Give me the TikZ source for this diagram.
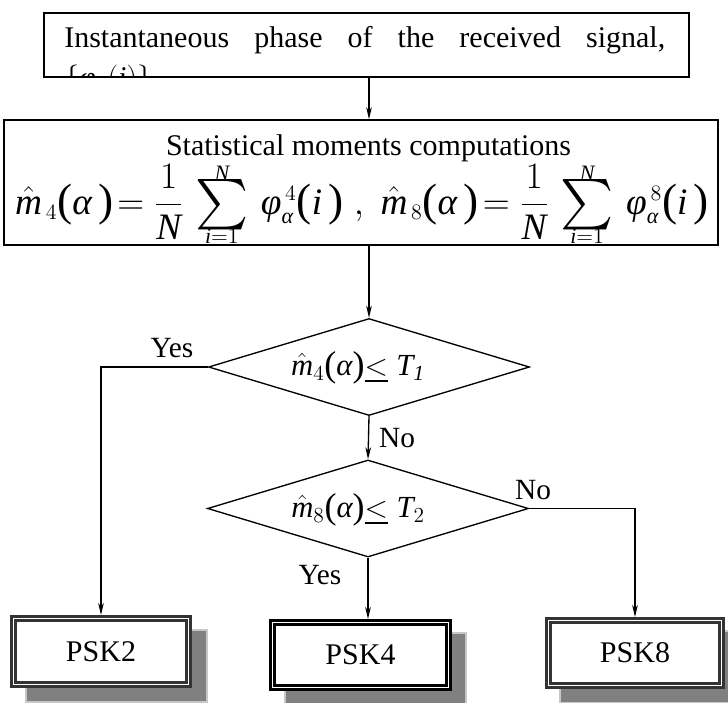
\RequirePackage{fix-cm}
\documentclass[tikz,border=0pt]{standalone}
\usepackage{amsmath}
\usepackage{graphicx}
\usepackage{fontspec}
\setmainfont{Liberation Serif}
\usetikzlibrary{arrows.meta,shapes.geometric}
\newcommand{\ti}[1]{\textit{#1}}
\newcommand{\lpar}[1]{\mathopen{\vcenter{\hbox{\fontsize{#1}{#1}\selectfont(}}}}
\newcommand{\rpar}[1]{\mathclose{\vcenter{\hbox{\fontsize{#1}{#1}\selectfont)}}}}
\newcommand{\bigsum}[2]{\mathop{\vcenter{\offinterlineskip\halign{\hfil##\hfil\cr
  $\scriptstyle #2$\cr\noalign{\kern-1.2pt}
  \scalebox{1.52}{$\textstyle\sum$}\cr\noalign{\kern-0.8pt}
  $\scriptstyle #1$\cr}}}}
\DeclareMathSizes{28}{28}{16.5}{13}
\hyphenpenalty=10000
\exhyphenpenalty=10000
\tolerance=10000
\tikzset{
  arr/.style={line width=1pt,-{Stealth[length=9pt,width=4.2pt,inset=2.6pt]}},
  bigbox/.style={draw,line width=1.1pt,fill=white,inner sep=0pt},
  dia/.style={draw,shape=diamond,aspect=3.31,line width=1pt,inner sep=0pt,
    minimum width=321*0.75pt,minimum height=97*0.75pt},
  dtext/.style={inner sep=0pt,font=\fontsize{23}{27}\selectfont},
  lbl/.style={inner sep=0pt,font=\fontsize{22}{26}\selectfont},
  pskbox/.style={draw=black!80,line width=2pt,double=white,double distance=1.3pt,
    fill=white,inner sep=0pt,outer sep=2.6pt,font=\fontsize{22.5}{27}\selectfont},
  shadowbox/.style={fill=black!50,draw=black!22,line width=0.9pt},
}
\begin{document}
\begin{tikzpicture}[x=0.75pt,y=-0.75pt]
\useasboundingbox (0,0) rectangle (728,703);
\begin{scope}
\clip (0,0) rectangle (728,703);
% shadows
\fill[shadowbox] (26,630) rectangle (207,702);
\fill[shadowbox] (285,633) rectangle (466,706);
\fill[shadowbox] (560,631) rectangle (742,703);
\draw[shadowbox,fill=none] (26,630) rectangle (207,702);
\draw[shadowbox,fill=none] (285,633) rectangle (466,706);
\draw[shadowbox,fill=none] (560,631) rectangle (742,703);
\end{scope}

% top box
\node[bigbox,minimum width=645*0.75pt,minimum height=64*0.75pt] (top) at (366.5,45) {};
\begin{scope}
\clip (44,13) rectangle (689,77);
\node[anchor=north west,inner sep=0pt,text width=601*0.75pt,align=justify,
  font=\fontsize{22.5}{29.5}\selectfont] (toptext) at (64,26.5)
  {Instantaneous phase of the received signal,\linebreak $\{\ti{φ}_{\ti{α}}(\ti{i})\}$};
\end{scope}

% moments box
\node[bigbox,minimum width=714*0.75pt,minimum height=125*0.75pt] (mom) at (361,182.5) {};
\node[anchor=base,inner sep=0pt,font=\fontsize{22.5}{27}\selectfont] (title) at (368.5,155)
  {Statistical moments computations};
\node[inner sep=0pt,font=\fontsize{28}{32}\selectfont] (formula) at (362,204)
  {$\hat{\ti{m}}_{\,4}\lpar{34}\ti{α}\,\rpar{34}\!=\dfrac{1}{\ti{N}}\,\bigsum{\ti{i}=1}{\ti{N}}\,\ti{φ}_{\ti{α}}^{\,4}\lpar{34}\ti{i}\,\rpar{34}\;,\;\hat{\ti{m}}_{\,8}\lpar{34}\ti{α}\,\rpar{34}\!=\dfrac{1}{\ti{N}}\,\bigsum{\ti{i}=1}{\ti{N}}\,\ti{φ}_{\ti{α}}^{\,8}\lpar{34}\ti{i}\,\rpar{34}$};

% decisions
\node[dia] (d1) at (369,367) {};
\node[dtext] (t1) at (358,368) {$\hat{\ti{m}}_{4}\lpar{27}\ti{α}\rpar{27}\underline{<}\;\ti{T}_{\ti{1}}$};
\node[dia] (d2) at (368,508.5) {};
\node[dtext] (t2) at (358,510) {$\hat{\ti{m}}_{8}\lpar{27}\ti{α}\rpar{27}\underline{<}\;\ti{T}_{2}$};

% result boxes
\node[pskbox,minimum width=175*0.75pt,minimum height=66*0.75pt] (psk2) at (101,651.5) {PSK2};
\node[pskbox,draw=black,minimum width=176*0.75pt,minimum height=65*0.75pt] (psk4) at (360.5,655) {PSK4};
\node[pskbox,minimum width=173*0.75pt,minimum height=65*0.75pt] (psk8) at (635,653) {PSK8};

% connectors
\draw[arr] (top.south -| d1.north) -- (mom.north -| d1.north);
\draw[arr] (mom.south -| d1.north) -- (d1.north);
\draw[arr] (d1.west) -| (psk2.north);
\draw[arr] (d1.south) -- (d2.north);
\draw[arr] (d2.east) -| (psk8.north);
\draw[arr] (d2.south) -- (d2.south |- psk4.north);

% labels
\node[lbl] (yes1) at (172,348) {Yes};
\node[lbl] (no1) at (397,438) {No};
\node[lbl] (no2) at (533,490) {No};
\node[lbl] (yes2) at (320,575) {Yes};
\end{tikzpicture}
\end{document}
